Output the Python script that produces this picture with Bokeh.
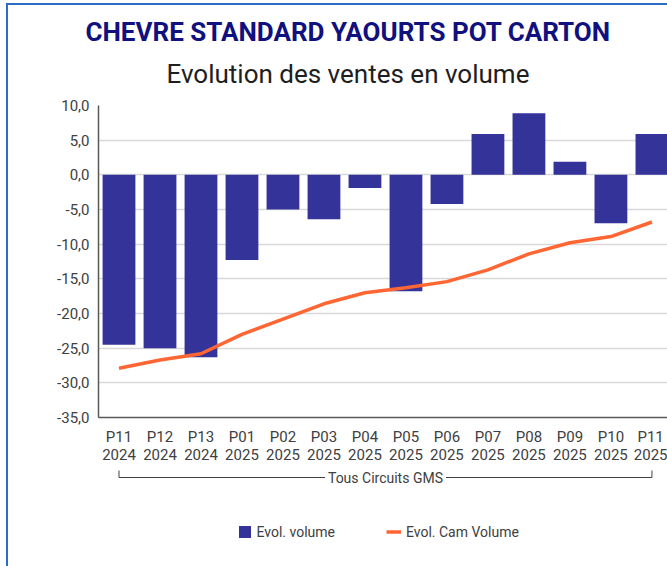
from bokeh.plotting import figure
from bokeh.models import Range1d, FixedTicker, Title, Legend, LegendItem, ColumnDataSource
from bokeh.layouts import column
from bokeh.core.properties import value
from bokeh.embed import file_html
from bokeh.resources import INLINE

# ---- data ----
periods = ["P11", "P12", "P13", "P01", "P02", "P03", "P04",
           "P05", "P06", "P07", "P08", "P09", "P10", "P11"]
years = ["2024", "2024", "2024", "2025", "2025", "2025", "2025",
         "2025", "2025", "2025", "2025", "2025", "2025", "2025"]
evol_volume = [-24.5, -25.0, -26.3, -12.3, -5.0, -6.4, -1.9,
               -16.8, -4.2, 5.9, 8.9, 1.9, -7.0, 5.9]
evol_cam_volume = [-27.9, -26.7, -25.8, -23.0, -20.8, -18.6, -17.0,
                   -16.3, -15.4, -13.7, -11.4, -9.8, -8.9, -6.8]
y_ticks = [-35, -30, -25, -20, -15, -10, -5, 0, 5, 10]
group_label = "Tous Circuits GMS"
title_main = "CHEVRE STANDARD YAOURTS POT CARTON"
title_sub = "Evolution des ventes en volume"
legend_labels = ["Evol. volume", "Evol. Cam Volume"]

BAR_COLOR = "#333399"
LINE_COLOR = "#ff6633"
TEXT_COLOR = "#404040"
FONT = "Roboto"

idx = list(range(len(periods)))
src = ColumnDataSource(dict(x=idx, vol=evol_volume, cam=evol_cam_volume))

W = 659
HA = 462
OVERLAP = 8
HB = 107

p = figure(width=W, height=HA, x_range=Range1d(-0.5, 13.38), y_range=Range1d(-35, 10),
           output_backend="svg", toolbar_location=None,
           min_border_left=90, min_border_right=0, min_border_top=100, min_border_bottom=49,
           outline_line_color=None, background_fill_color="white", border_fill_color="white")

p.vbar(x="x", top="vol", bottom=0, width=0.8, source=src,
       fill_color=BAR_COLOR, line_color=None)
p.line(x="x", y="cam", source=src, line_color=LINE_COLOR, line_width=3.5)

# axes
p.yaxis.ticker = FixedTicker(ticks=y_ticks)
p.yaxis.major_label_overrides = {t: f"{t:.1f}".replace(".", ",") for t in y_ticks}
p.xaxis.ticker = FixedTicker(ticks=idx)
p.xaxis.major_label_overrides = {i: f"{periods[i]}\n{years[i]}" for i in idx}
for ax in (p.xaxis[0], p.yaxis[0]):
    ax.major_tick_line_color = None
    ax.minor_tick_line_color = None
    ax.major_tick_out = 0
    ax.major_tick_in = 0
    ax.minor_tick_out = 0
    ax.axis_line_color = "#595959"
    ax.axis_line_width = 1.5
    ax.major_label_text_font = FONT
    ax.major_label_text_font_size = "15px"
    ax.major_label_text_color = TEXT_COLOR
p.yaxis.major_label_standoff = 9
p.xaxis.major_label_standoff = 10
p.xaxis.major_label_text_line_height = 1.05

p.xgrid.visible = False
p.ygrid.ticker = FixedTicker(ticks=y_ticks)
p.ygrid.grid_line_color = "#d9d9d9"
p.ygrid.grid_line_width = 1.5

# titles
p.add_layout(Title(text=title_sub, text_font=FONT, text_font_size="26px",
                   text_font_style="normal", text_color="#1e1e1e",
                   align="left", offset=68, standoff=33), "above")
p.add_layout(Title(text=title_main, text_font=FONT, text_font_size="26px",
                   text_font_style="bold", text_color="#10107e",
                   align="left", offset=-13, standoff=-12), "above")

# ---- lower panel: group bracket + legend ----
b = figure(width=W, height=HB, x_range=p.x_range, y_range=Range1d(HB, 0),
           output_backend="svg", toolbar_location=None,
           x_axis_type=None, y_axis_type=None, margin=(-OVERLAP, 0, 0, 0),
           min_border_left=90, min_border_right=0, min_border_top=0, min_border_bottom=0,
           outline_line_color=None, background_fill_alpha=0, border_fill_alpha=0)
b.xgrid.visible = False
b.ygrid.visible = False
# hidden range: legend renderers use the real data but fall outside this strip
b.extra_y_ranges = {"legend_only": Range1d(1000, 1100)}

yb = 18
first, last = idx[0], idx[-1]
b.segment(x0=[first, first, last], y0=[yb, yb - 7, yb - 7],
          x1=[last, first, last], y1=[yb, yb, yb],
          line_color=TEXT_COLOR, line_width=1)
b.text(x=[(first + last) / 2], y=[yb], text=[group_label],
       text_align="center", text_baseline="middle",
       text_font=value(FONT), text_font_size="14px", text_color=TEXT_COLOR,
       background_fill_color="white", padding=3)

lb = b.vbar(x="x", top="vol", bottom=0, width=0.8, source=src, fill_color=BAR_COLOR,
            line_color=None, y_range_name="legend_only")
ll = b.line(x="x", y="cam", source=src, line_color=LINE_COLOR, line_width=3.5,
            y_range_name="legend_only")
legend = Legend(items=[LegendItem(label=legend_labels[0], renderers=[lb]),
                       LegendItem(label=legend_labels[1], renderers=[ll])],
                orientation="horizontal", location=(138.5, 26.5),
                glyph_width=15, glyph_height=15, label_standoff=5, spacing=51,
                padding=0, margin=0, border_line_color=None, background_fill_alpha=0,
                label_text_font=FONT, label_text_font_size="14px",
                label_text_color=TEXT_COLOR, label_height=15)
b.add_layout(legend, "center")

layout = column(p, b, spacing=0, margin=(3, 0, 0, 6),
                styles={"border-left": "2px solid #2b6cc4", "border-top": "2px solid #2b6cc4"})

open("out.html", "w").write(file_html(layout, INLINE))
